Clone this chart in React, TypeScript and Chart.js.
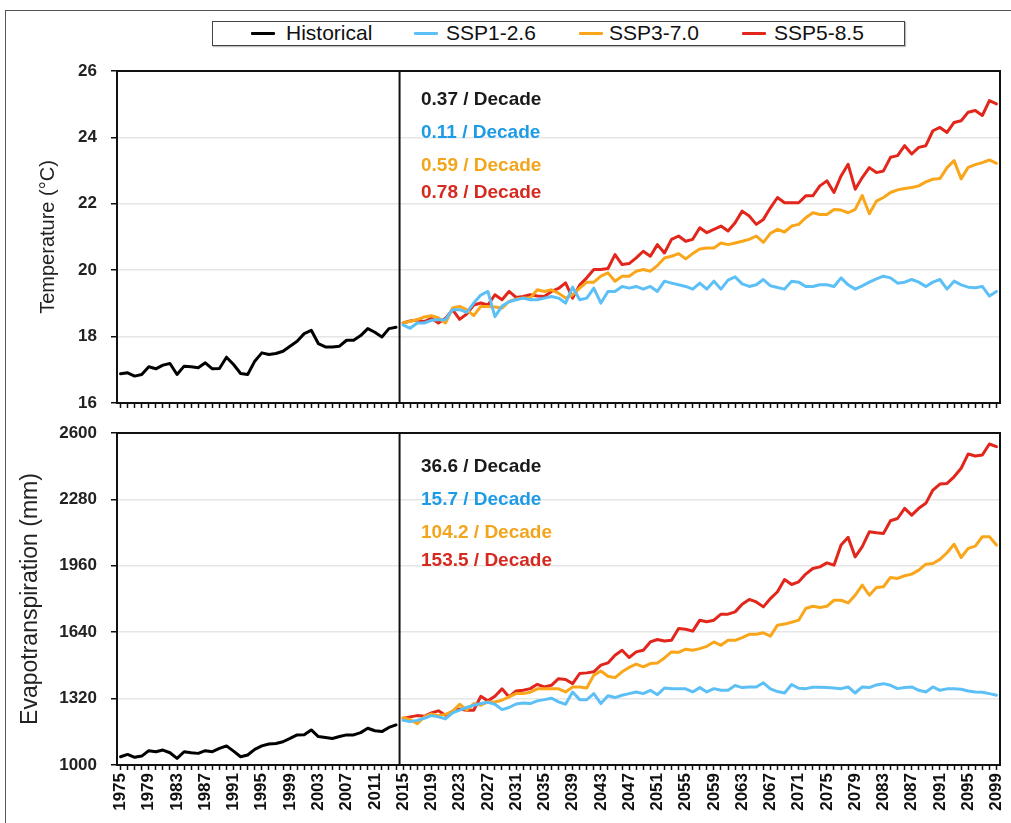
import React, { useEffect, useRef } from 'react';
import { Chart, registerables } from 'chart.js';

Chart.register(...registerables);

const FONT = '"Liberation Sans", Arial, Helvetica, sans-serif';

// ---------- categories & tick labels ----------
const FIRST_YEAR = 1975;
const LAST_YEAR = 2099;
const years: string[] = Array.from({ length: LAST_YEAR - FIRST_YEAR + 1 }, (_, i) => String(FIRST_YEAR + i));
const tickLabels = [
  '1975', '1979', '1983', '1987', '1991', '1995', '1999', '2003', '2007', '2011',
  '2015', '2019', '2023', '2027', '2031', '2035', '2039', '2043', '2047', '2051',
  '2055', '2059', '2063', '2067', '2071', '2075', '2079', '2083', '2087', '2091',
  '2095', '2099',
];
const seriesNames = ['Historical', 'SSP1-2.6', 'SSP3-7.0', 'SSP5-8.5'];
const lineColors = ['#000000', '#5CC0F7', '#F9A61A', '#E3261B'];
const textColors = ['#1a1a1a', '#1E9BE6', '#F2A51D', '#D62A20'];

// ---------- Temperature (°C) ----------
// 1975-2014
const histTemp = [
  16.88, 16.91, 16.81, 16.86, 17.09, 17.03, 17.14, 17.19, 16.86, 17.11,
  17.09, 17.06, 17.21, 17.03, 17.04, 17.38, 17.16, 16.89, 16.86, 17.26,
  17.51, 17.46, 17.49, 17.56, 17.71, 17.86, 18.09, 18.19, 17.79, 17.69,
  17.69, 17.71, 17.89, 17.89, 18.03, 18.24, 18.13, 17.99, 18.24, 18.28,
];
// 2015-2099
const ssp126Temp = [
  18.35, 18.25, 18.41, 18.41, 18.49, 18.51, 18.51, 18.81, 18.81, 18.73,
  19.01, 19.25, 19.36, 18.60, 18.92, 19.05, 19.11, 19.16, 19.11, 19.11,
  19.16, 19.21, 19.16, 19.01, 19.49, 19.11, 19.16, 19.46, 19.01, 19.36,
  19.36, 19.51, 19.46, 19.51, 19.43, 19.51, 19.36, 19.67, 19.61, 19.56,
  19.51, 19.43, 19.61, 19.43, 19.67, 19.43, 19.70, 19.80, 19.59, 19.51,
  19.56, 19.72, 19.53, 19.48, 19.43, 19.67, 19.64, 19.51, 19.51, 19.56,
  19.56, 19.51, 19.77, 19.56, 19.43, 19.53, 19.64, 19.74, 19.82, 19.77,
  19.61, 19.64, 19.72, 19.64, 19.51, 19.64, 19.72, 19.43, 19.67, 19.56,
  19.49, 19.47, 19.51, 19.22, 19.36,
];
const ssp370Temp = [
  18.41, 18.46, 18.51, 18.59, 18.63, 18.56, 18.41, 18.86, 18.91, 18.81,
  18.63, 18.91, 18.91, 18.89, 18.86, 19.06, 19.13, 19.16, 19.16, 19.41,
  19.36, 19.41, 19.31, 19.16, 19.26, 19.46, 19.64, 19.64, 19.82, 19.92,
  19.67, 19.82, 19.82, 19.97, 20.02, 19.97, 20.14, 20.37, 20.42, 20.50,
  20.34, 20.50, 20.64, 20.67, 20.67, 20.82, 20.77, 20.82, 20.87, 20.93,
  21.03, 20.84, 21.11, 21.23, 21.15, 21.33, 21.38, 21.58, 21.73, 21.68,
  21.68, 21.83, 21.81, 21.73, 21.83, 22.25, 21.70, 22.08, 22.19, 22.34,
  22.42, 22.46, 22.49, 22.54, 22.66, 22.74, 22.76, 23.09, 23.30, 22.75,
  23.10, 23.18, 23.24, 23.32, 23.22,
];
const ssp585Temp = [
  18.41, 18.47, 18.50, 18.45, 18.55, 18.41, 18.55, 18.81, 18.52, 18.68,
  18.95, 19.01, 18.95, 19.26, 19.11, 19.36, 19.18, 19.21, 19.26, 19.22,
  19.21, 19.36, 19.45, 19.62, 19.16, 19.55, 19.77, 20.02, 20.02, 20.05,
  20.47, 20.17, 20.20, 20.37, 20.57, 20.42, 20.77, 20.52, 20.93, 21.03,
  20.87, 20.93, 21.28, 21.13, 21.23, 21.33, 21.18, 21.43, 21.78, 21.63,
  21.38, 21.53, 21.88, 22.19, 22.03, 22.03, 22.03, 22.24, 22.24, 22.54,
  22.69, 22.34, 22.84, 23.19, 22.44, 22.79, 23.09, 22.94, 22.99, 23.40,
  23.45, 23.75, 23.50, 23.70, 23.75, 24.20, 24.30, 24.15, 24.45, 24.50,
  24.76, 24.81, 24.66, 25.11, 25.01,
];
const tempTrends = ['0.37 / Decade', '0.11 / Decade', '0.59 / Decade', '0.78 / Decade'];
const tempTicks = { min: 16, max: 26, step: 2 };

// ---------- Evapotranspiration (mm) ----------
const histET = [
  1040, 1051, 1037, 1043, 1069, 1064, 1072, 1059, 1032, 1064,
  1059, 1056, 1069, 1064, 1080, 1092, 1067, 1040, 1048, 1075,
  1092, 1101, 1104, 1112, 1128, 1145, 1146, 1169, 1137, 1133,
  1128, 1137, 1145, 1145, 1156, 1177, 1165, 1161, 1181, 1193,
];
const ssp126ET = [
  1215, 1209, 1215, 1225, 1238, 1232, 1222, 1251, 1264, 1277,
  1288, 1296, 1302, 1293, 1267, 1277, 1294, 1299, 1296, 1309,
  1315, 1322, 1304, 1293, 1352, 1315, 1315, 1344, 1296, 1334,
  1325, 1336, 1344, 1352, 1344, 1360, 1339, 1371, 1368, 1368,
  1367, 1352, 1373, 1352, 1368, 1360, 1360, 1383, 1373, 1376,
  1376, 1396, 1367, 1354, 1347, 1388, 1370, 1368, 1375, 1375,
  1373, 1371, 1368, 1376, 1347, 1376, 1373, 1386, 1392, 1384,
  1368, 1373, 1376, 1360, 1352, 1376, 1360, 1367, 1368, 1365,
  1357, 1352, 1351, 1344, 1336,
];
const ssp370ET = [
  1228, 1219, 1199, 1232, 1246, 1238, 1244, 1259, 1293, 1264,
  1296, 1288, 1304, 1304, 1312, 1328, 1344, 1344, 1351, 1367,
  1368, 1368, 1367, 1352, 1376, 1376, 1371, 1433, 1453, 1428,
  1421, 1449, 1470, 1486, 1473, 1489, 1492, 1516, 1545, 1543,
  1558, 1553, 1561, 1572, 1593, 1577, 1601, 1601, 1614, 1630,
  1630, 1637, 1621, 1674, 1679, 1688, 1698, 1754, 1765, 1759,
  1765, 1794, 1794, 1781, 1818, 1867, 1818, 1855, 1859, 1904,
  1899, 1912, 1920, 1939, 1968, 1971, 1991, 2023, 2064, 2000,
  2044, 2055, 2100, 2100, 2060,
];
const ssp585ET = [
  1224, 1232, 1238, 1235, 1251, 1261, 1240, 1259, 1270, 1264,
  1264, 1331, 1309, 1331, 1367, 1328, 1357, 1360, 1368, 1389,
  1376, 1384, 1416, 1412, 1392, 1441, 1444, 1449, 1481, 1492,
  1529, 1553, 1518, 1545, 1553, 1593, 1605, 1598, 1601, 1658,
  1654, 1645, 1698, 1690, 1698, 1727, 1727, 1738, 1775, 1798,
  1786, 1762, 1802, 1835, 1894, 1870, 1883, 1920, 1947, 1955,
  1974, 1963, 2060, 2097, 2003, 2052, 2124, 2119, 2116, 2177,
  2188, 2237, 2204, 2237, 2261, 2325, 2354, 2357, 2389, 2430,
  2499, 2489, 2494, 2547, 2534,
];
const etTrends = ['36.6 / Decade', '15.7 / Decade', '104.2 / Decade', '153.5 / Decade'];
const etTicks = { min: 1000, max: 2600, step: 320 };

const HIST_LEN = histTemp.length;

function padHist(arr: number[]) {
  return [...arr, ...new Array(years.length - arr.length).fill(null)];
}
function padFuture(arr: number[]) {
  return [...new Array(years.length - arr.length).fill(null), ...arr];
}

type PanelCfg = {
  series: number[][];
  trends: string[];
  noteOffsets: number[];
  ticks: { min: number; max: number; step: number };
  title: string;
  titleSize: number;
  padLeft: number;
  axisWidth: number;
  padTop: number;
  xHeight: number;
  showXLabels: boolean;
};

function decorPlugin(cfg: PanelCfg) {
  return {
    id: 'decor',
    afterDraw(chart: any) {
      const { ctx, chartArea: a } = chart;
      const x = chart.scales.x;
      ctx.save();
      ctx.strokeStyle = '#111';
      ctx.lineWidth = 2;
      const dx = (x.getPixelForValue(HIST_LEN - 1) + x.getPixelForValue(HIST_LEN)) / 2;
      ctx.beginPath();
      ctx.moveTo(dx, a.top);
      ctx.lineTo(dx, a.bottom);
      ctx.stroke();
      ctx.strokeRect(a.left, a.top, a.right - a.left, a.bottom - a.top);
      ctx.font = `bold 19px ${FONT}`;
      ctx.textBaseline = 'middle';
      ctx.textAlign = 'left';
      cfg.trends.forEach((t, i) => {
        ctx.fillStyle = textColors[i];
        ctx.fillText(t, a.left + 304, a.top + cfg.noteOffsets[i]);
      });
      ctx.restore();
    },
  };
}

function buildChart(canvas: HTMLCanvasElement, cfg: PanelCfg) {
  const datasets = cfg.series.map((s, i) => ({
    label: seriesNames[i],
    data: i === 0 ? padHist(s) : padFuture(s),
    borderColor: lineColors[i],
    backgroundColor: lineColors[i],
    borderWidth: 3,
    pointRadius: 0,
    tension: 0,
    borderJoinStyle: 'round' as const,
    borderCapStyle: 'round' as const,
    spanGaps: false,
  }));
  return new Chart(canvas, {
    type: 'line',
    data: { labels: years, datasets },
    options: {
      animation: false,
      responsive: false,
      devicePixelRatio: 1,
      layout: { padding: { top: cfg.padTop, left: cfg.padLeft, right: 11, bottom: 0 } },
      plugins: { legend: { display: false }, tooltip: { enabled: false } },
      scales: {
        x: {
          type: 'category',
          offset: true,
          grid: {
            display: true,
            drawOnChartArea: false,
            drawTicks: true,
            tickLength: 5,
            tickColor: '#111',
            tickWidth: 1.5,
            offset: false,
          },
          border: { display: true, color: '#111', width: 2 },
          ticks: cfg.showXLabels
            ? {
                display: true,
                autoSkip: false,
                maxRotation: 90,
                minRotation: 90,
                padding: 3,
                color: '#111',
                font: { family: FONT, size: 17, weight: 'bold' },
                callback: (_v: any, idx: number) => (tickLabels.includes(years[idx]) ? years[idx] : ''),
              }
            : { display: false },
          afterFit: (s: any) => {
            s.height = cfg.xHeight;
            s.paddingLeft = 0;
            s.paddingRight = 0;
          },
        },
        y: {
          min: cfg.ticks.min,
          max: cfg.ticks.max,
          ticks: {
            stepSize: cfg.ticks.step,
            padding: 14,
            color: '#222',
            font: { family: FONT, size: 17, weight: 'bold' },
            callback: (v: any) => String(v),
          },
          grid: {
            color: '#e6e6e6',
            lineWidth: 1.5,
            tickColor: '#111',
            tickLength: 6,
            tickWidth: 1.5,
          },
          border: { display: true, color: '#111', width: 2 },
          title: {
            display: true,
            text: cfg.title,
            color: '#222',
            padding: 0,
            font: { family: FONT, size: cfg.titleSize },
          },
          afterFit: (s: any) => {
            s.width = cfg.axisWidth;
            s.paddingTop = 0;
            s.paddingBottom = 0;
          },
        },
      },
    } as any,
    plugins: [decorPlugin(cfg)],
  });
}

const topCfg: PanelCfg = {
  series: [histTemp, ssp126Temp, ssp370Temp, ssp585Temp],
  trends: tempTrends,
  noteOffsets: [29, 62, 95, 122],
  ticks: tempTicks,
  title: 'Temperature (°C)',
  titleSize: 20,
  padLeft: 36,
  axisWidth: 81,
  padTop: 11,
  xHeight: 17,
  showXLabels: false,
};

const bottomCfg: PanelCfg = {
  series: [histET, ssp126ET, ssp370ET, ssp585ET],
  trends: etTrends,
  noteOffsets: [34, 67, 100, 128],
  ticks: etTicks,
  title: 'Evapotranspiration (mm)',
  titleSize: 23,
  padLeft: 17,
  axisWidth: 100,
  padTop: 13,
  xHeight: 58,
  showXLabels: true,
};

const legendItems = [
  { line: 38, text: 73 },
  { line: 201, text: 233 },
  { line: 366, text: 396 },
  { line: 529, text: 561 },
];

export default function App() {
  const topRef = useRef<HTMLCanvasElement>(null);
  const botRef = useRef<HTMLCanvasElement>(null);

  useEffect(() => {
    const c1 = buildChart(topRef.current!, topCfg);
    const c2 = buildChart(botRef.current!, bottomCfg);
    return () => {
      c1.destroy();
      c2.destroy();
    };
  }, []);

  return (
    <div
      style={{
        position: 'absolute',
        left: 0,
        top: 0,
        width: 1011,
        height: 823,
        background: '#fff',
        overflow: 'hidden',
        fontFamily: FONT,
      }}
    >
      <div
        style={{
          position: 'absolute',
          left: 5,
          top: 10,
          width: 1020,
          height: 830,
          borderTop: '1px solid #555',
          borderLeft: '1px solid #555',
        }}
      />
      <div
        style={{
          position: 'absolute',
          left: 212,
          top: 21,
          width: 693,
          height: 25,
          border: '1.5px solid #444',
          boxSizing: 'border-box',
          background: '#fff',
          boxShadow: '1px 1px 1px rgba(0,0,0,0.25)',
        }}
      >
        {legendItems.map((it, i) => (
          <React.Fragment key={seriesNames[i]}>
            <div
              style={{
                position: 'absolute',
                left: it.line,
                top: 9.5,
                width: 24,
                height: 3,
                background: lineColors[i],
                borderRadius: 1,
              }}
            />
            <div
              style={{
                position: 'absolute',
                left: it.text,
                top: 0,
                lineHeight: '22px',
                fontSize: 21,
                color: '#111',
                whiteSpace: 'nowrap',
              }}
            >
              {seriesNames[i]}
            </div>
          </React.Fragment>
        ))}
      </div>
      <canvas
        ref={topRef}
        width={1011}
        height={360}
        style={{ position: 'absolute', left: 0, top: 60, width: 1011, height: 360 }}
      />
      <canvas
        ref={botRef}
        width={1011}
        height={403}
        style={{ position: 'absolute', left: 0, top: 420, width: 1011, height: 403 }}
      />
    </div>
  );
}
